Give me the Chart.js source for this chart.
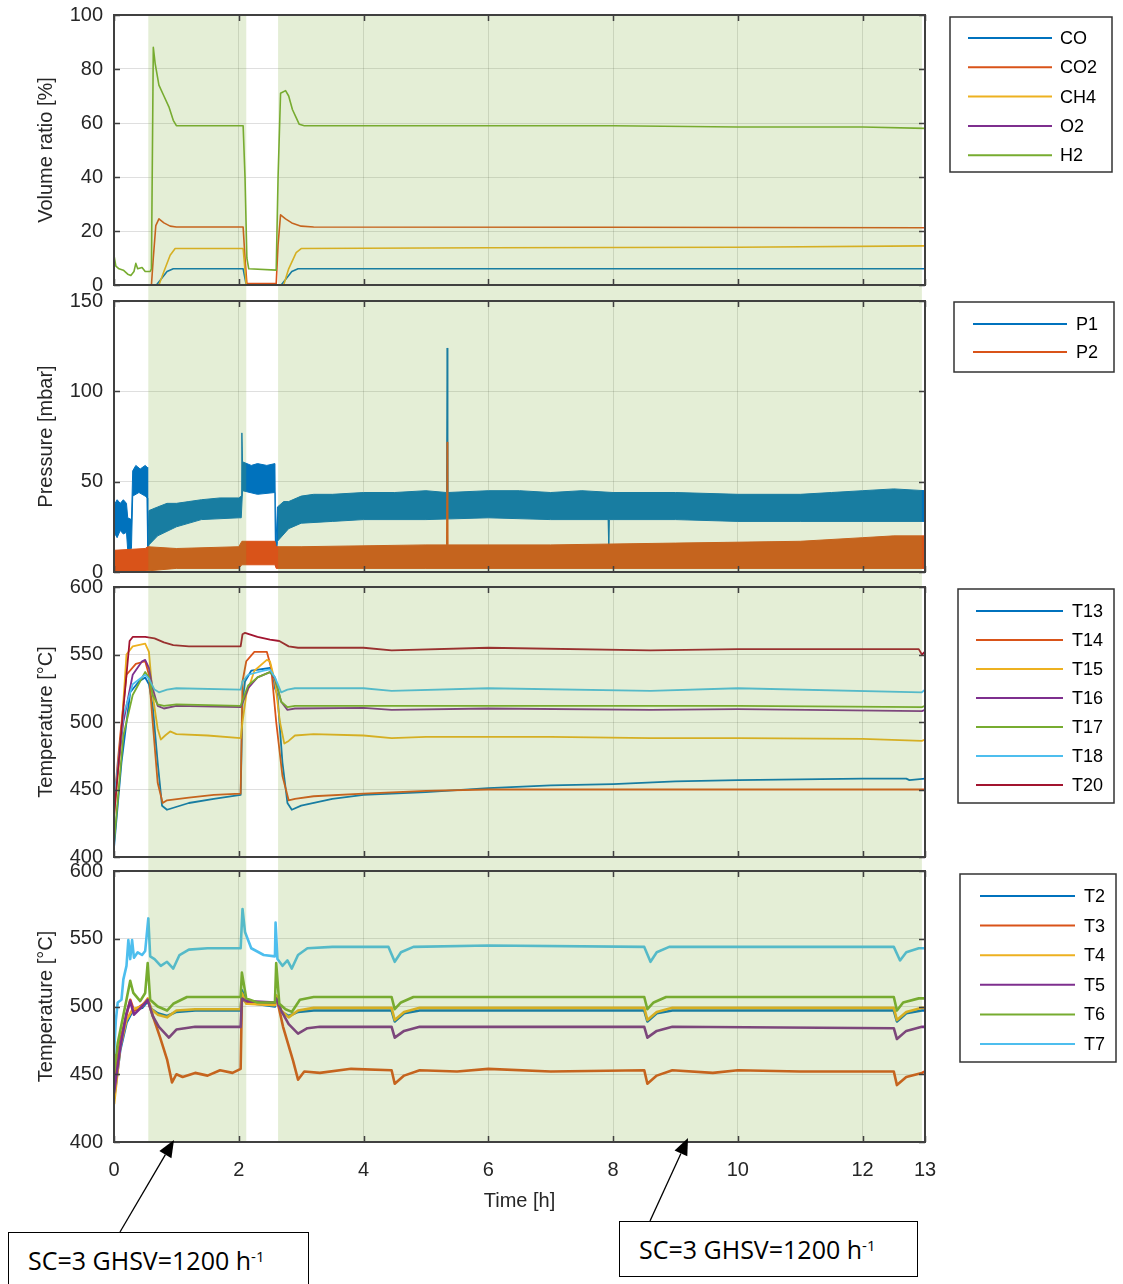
<!DOCTYPE html>
<html>
<head>
<meta charset="utf-8">
<script src="https://cdn.jsdelivr.net/npm/chart.js@4.4.1/dist/chart.umd.min.js"></script>
<style>
  body { margin: 0; background: #fff; }
  #wrap { position: relative; width: 1123px; height: 1284px; overflow: hidden; background: #fff; }
  #wrap canvas { position: absolute; left: 0; top: 0; }
  #arrows { position: absolute; left: 0; top: 0; }
  .note {
    position: absolute; box-sizing: border-box; border: 1.5px solid #000; background: #fff;
    display: flex; align-items: center; font-family: "Open Sans", "Liberation Sans", sans-serif;
    font-size: 25px; color: #000; white-space: nowrap;
  }
  .note sup { font-size: 15px; position: relative; top: -4px; }
</style>
</head>
<body>
<div id="wrap">
  <canvas id="gas" width="1123" height="1284"></canvas>
  <canvas id="pres" width="1123" height="1284"></canvas>
  <canvas id="tmid" width="1123" height="1284"></canvas>
  <canvas id="tbed" width="1123" height="1284"></canvas>
  <svg id="arrows" width="1123" height="1284"></svg>
  <div class="note" style="left:8px;top:1232px;width:301px;height:56px;padding-left:19px;">SC=3 GHSV=1200 h<sup>-1</sup></div>
  <div class="note" style="left:619px;top:1221px;width:299px;height:56px;padding-left:19px;">SC=3 GHSV=1200 h<sup>-1</sup></div>
</div>
<script>
// ---- time axis ----
const X_TICKS = [0, 2, 4, 6, 8, 10, 12, 13];
// periods run at SC=3, GHSV=1200 h-1 [start h, end h]
const STEADY_PERIODS = [[0.55, 2.12], [2.63, 12.95]];

// ---- gas composition [%]: [time h, value] ----
const GAS_TICKS = [0, 20, 40, 60, 80, 100];
const CO = [[0,0],[0.68,0],[0.75,2],[0.85,5],[0.95,6],[2.07,6],[2.12,0],[2.68,0],[2.75,2],[2.85,5],[2.95,6],[6,6],[10,6],[13,6]];
const CO2 = [[0,0],[0.6,0],[0.63,10],[0.67,22],[0.72,24.5],[0.8,23],[0.9,21.8],[1.0,21.5],[2.07,21.5],[2.1,10],[2.13,0.5],[2.6,0.5],[2.63,15],[2.67,26],[2.75,24.5],[2.85,23],[3.0,21.8],[3.2,21.5],[8,21.4],[13,21.2]];
const CH4 = [[0,0],[0.72,0],[0.8,5],[0.9,11],[0.98,13.5],[2.07,13.5],[2.12,0],[2.72,0],[2.8,6],[2.92,12],[3.0,13.5],[6,13.8],[10,14],[13,14.5]];
const O2 = [[0,0],[13,0]];
const H2 = [[0,11],[0.03,7],[0.08,6],[0.15,5.5],[0.22,4],[0.27,3.5],[0.32,5],[0.35,8],[0.38,6],[0.45,6.5],[0.5,5],[0.58,5],[0.6,6],[0.63,88],[0.66,82],[0.72,74],[0.8,70],[0.88,66],[0.95,61],[1.0,59],[1.4,59],[1.8,59],[2.07,59],[2.1,40],[2.13,10],[2.16,6],[2.6,5.5],[2.63,40],[2.67,71],[2.75,72],[2.8,70],[2.86,65],[2.92,62],[2.97,59.5],[3.05,59],[4,59],[6,59],[8,59],[10,58.5],[12,58.5],[13,58]];

// ---- pressure [mbar]: band limits of the logged signal ----
const PRES_TICKS = [0, 50, 100, 150];
const P1_HIGH = [[0,37],[0.05,40],[0.1,38],[0.15,40],[0.2,38],[0.22,30],[0.28,29],[0.3,56],[0.35,59],[0.42,57],[0.5,59],[0.53,58],[0.54,10],[0.56,34],[0.7,36],[0.85,38],[1.0,38],[1.2,39],[1.4,40],[1.7,41],[2.0,41],[2.04,42],[2.05,77],[2.06,61],[2.2,59],[2.3,60],[2.45,59],[2.58,60],[2.59,10],[2.62,36],[2.72,39],[2.8,39],[3.0,42],[3.2,43],[3.5,43],[4.0,44],[4.5,44],[5.0,45],[5.33,44],[5.34,124],[5.35,44],[6,45],[6.5,45],[7,44],[7.5,45],[8,44],[9,44],[10,43],[11,43],[11.5,44],[12,45],[12.5,46],[13,45]];
const P1_LOW = [[0,22],[0.05,19],[0.1,23],[0.15,21],[0.2,22],[0.22,12],[0.28,13],[0.3,42],[0.4,44],[0.5,42],[0.53,41],[0.54,8],[0.56,15],[0.7,20],[1.0,25],[1.4,29],[2.0,30],[2.04,30],[2.06,45],[2.3,43],[2.58,44],[2.59,3],[2.62,17],[2.8,24],[3.0,27],[3.5,28],[4,29],[5,29],[6,30],[7,29],[7.92,29],[7.93,14],[7.94,29],[8,29],[9,29],[10,28],[11,28],[12,28],[13,28]];
const P2_HIGH = [[0,12],[0.5,13],[0.54,14],[1,13],[2,14],[2.05,17],[2.58,17],[2.6,14],[3,14],[5,15],[5.33,15],[5.34,72],[5.35,15],[7,15],[9,16],[11,17],[12,19],[12.5,20],[13,20]];
const P2_LOW = [[0,0],[0.5,0.5],[1,2],[2,2],[2.05,4],[2.58,4],[2.6,2],[5,2],[8,2],[10,2],[12,2],[13,2]];

// ---- temperatures [°C] ----
const TEMP_TICKS = [400, 450, 500, 550, 600];
const T13 = [[0,407],[0.12,470],[0.26,522],[0.4,530],[0.5,533],[0.56,528],[0.62,512],[0.7,470],[0.77,438],[0.85,435],[1.2,440],[1.6,443],[2.03,446],[2.06,515],[2.1,530],[2.2,538],[2.5,540],[2.55,535],[2.58,525],[2.62,520],[2.7,470],[2.78,440],[2.85,435],[3.0,438],[3.5,443],[4,446],[5,448],[6,451],[7,453],[8,454],[9,456],[10,457],[11,457.5],[12,458],[12.7,458],[12.75,457],[13,458]];
const T14 = [[0,440],[0.1,490],[0.2,535],[0.35,543],[0.5,545],[0.56,535],[0.62,500],[0.7,455],[0.78,440],[0.85,442],[1.2,444],[1.6,446],[2.03,447],[2.06,530],[2.12,545],[2.25,552],[2.45,552],[2.52,540],[2.6,500],[2.7,460],[2.8,442],[2.9,443],[3.2,445],[4,447],[5,449],[6,450],[8,450],[10,450],[12,450],[13,450]];
const T15 = [[0,430],[0.1,480],[0.2,550],[0.3,556],[0.5,558],[0.56,552],[0.62,520],[0.7,495],[0.75,487],[0.82,490],[0.9,493],[1.0,491],[1.5,490],[2.03,488],[2.06,500],[2.12,520],[2.25,538],[2.45,546],[2.5,545],[2.58,530],[2.66,500],[2.73,484],[2.8,486],[2.9,490],[3.2,491],[4,490],[4.45,488],[5,489],[7,489],[8.6,488],[10,488],[12,487.5],[12.95,486],[13,487]];
const T16 = [[0,440],[0.15,500],[0.3,535],[0.45,545],[0.5,546],[0.56,540],[0.62,525],[0.7,512],[0.8,510],[1.0,512],[2.03,511],[2.06,514],[2.15,525],[2.3,533],[2.5,537],[2.58,532],[2.68,515],[2.78,509],[2.9,510],[4,510.5],[4.45,509],[6,510],[8.6,509],[10,509.5],[12.95,508],[13,509]];
const T17 = [[0,410],[0.15,490],[0.3,520],[0.5,537],[0.56,533],[0.62,520],[0.7,513],[0.8,512],[1.0,513],[2.03,512],[2.06,516],[2.15,527],[2.3,533],[2.5,537],[2.58,533],[2.68,515],[2.78,511],[2.9,512],[4,512],[6,512],[10,512],[12.95,511],[13,512]];
const T18 = [[0,440],[0.15,505],[0.3,528],[0.5,535],[0.56,532],[0.65,524],[0.72,522],[0.85,524],[1,525],[2.03,524],[2.06,530],[2.15,535],[2.4,538],[2.5,539],[2.58,533],[2.68,522],[2.78,524],[2.9,525],[4,525],[4.45,523],[6,525],[8.6,523],[10,525],[12.95,522],[13,524]];
const T20 = [[0,430],[0.13,500],[0.25,560],[0.3,563],[0.5,563],[0.65,562],[0.8,559],[0.95,557],[1.2,556],[2.03,556],[2.06,565],[2.1,566],[2.3,563],[2.5,561],[2.65,560],[2.8,556],[2.95,555],[4,555],[4.45,553],[6,555],[8.6,553],[10,554],[12,554],[12.9,554],[12.95,550],[13,552]];

const T2 = [[0,432],[0.1,468],[0.2,488],[0.3,497],[0.45,499],[0.54,504],[0.6,498],[0.7,495],[0.85,493],[1.0,496],[1.3,497],[2.03,497],[2.05,512],[2.12,503],[2.58,500],[2.6,507],[2.68,496],[2.8,493],[2.95,496],[3.2,497],[4.45,497],[4.5,489],[4.65,495],[4.9,497],[8.5,497],[8.55,489],[8.7,495],[8.95,497],[12.5,497],[12.55,489],[12.7,495],[12.95,497],[13,497]];
const T3 = [[0,440],[0.1,475],[0.26,505],[0.32,497],[0.45,501],[0.54,505],[0.63,492],[0.74,477],[0.85,461],[0.93,444],[1.0,450],[1.1,448],[1.3,451],[1.5,449],[1.7,453],[1.9,451],[2.03,454],[2.05,506],[2.12,503],[2.58,502],[2.6,508],[2.71,485],[2.87,460],[2.95,446],[3.05,452],[3.3,451],[3.8,454],[4.45,453],[4.5,443],[4.65,449],[4.9,453],[5.5,452],[6,454],[7,452],[8.5,453],[8.55,443],[8.7,449],[8.95,453],[9.6,451],[10,453],[11,452],[12.5,452],[12.55,442],[12.7,448],[12.95,451],[13,452]];
const T4 = [[0,428],[0.1,470],[0.2,490],[0.3,498],[0.45,500],[0.54,506],[0.6,498],[0.7,494],[0.85,492],[1.0,497],[1.3,498],[2.03,498],[2.05,510],[2.12,502],[2.58,501],[2.6,508],[2.68,497],[2.8,492],[2.95,497],[3.2,499],[4.45,499],[4.5,490],[4.65,496],[4.9,499],[8.5,499],[8.55,490],[8.7,496],[8.95,499],[12.5,499],[12.55,490],[12.7,496],[12.95,499],[13,499]];
const T5 = [[0,436],[0.1,470],[0.2,495],[0.26,504],[0.32,494],[0.45,500],[0.54,505],[0.62,493],[0.72,485],[0.88,477],[1.0,483],[1.3,485],[2.03,485],[2.05,506],[2.12,504],[2.58,503],[2.6,506],[2.68,497],[2.8,487],[2.95,480],[3.1,484],[3.3,485],[4.45,485],[4.5,477],[4.65,482],[4.9,485],[8.5,485],[8.55,477],[8.7,482],[8.95,485],[12.5,484],[12.55,476],[12.7,482],[12.95,485],[13,485]];
const T6 = [[0,451],[0.06,473],[0.2,505],[0.26,519],[0.31,510],[0.42,504],[0.5,510],[0.54,532],[0.58,505],[0.7,500],[0.85,497],[0.95,502],[1.17,507],[2.03,507],[2.05,525],[2.12,506],[2.3,503],[2.58,503],[2.6,532],[2.65,502],[2.75,498],[2.85,496],[2.98,505],[3.2,507],[4.45,507],[4.5,498],[4.6,503],[4.8,507],[8.5,507],[8.55,498],[8.65,503],[8.85,507],[12.5,507],[12.55,497],[12.65,503],[12.9,506],[13,506]];
const T7 = [[0,465],[0.03,490],[0.06,503],[0.12,505],[0.15,520],[0.2,530],[0.23,549],[0.26,535],[0.29,549],[0.32,536],[0.38,540],[0.45,538],[0.5,541],[0.55,565],[0.58,537],[0.65,535],[0.75,530],[0.85,533],[0.95,528],[1.05,538],[1.2,542],[1.5,543],[2.03,543],[2.06,572],[2.1,555],[2.2,543],[2.4,538],[2.58,537],[2.59,562],[2.62,535],[2.7,530],[2.78,534],[2.85,528],[2.95,538],[3.1,543],[3.5,544],[4.4,544],[4.5,533],[4.6,540],[4.8,544],[6,545],[8.5,544],[8.6,533],[8.7,540],[8.9,544],[10,544],[12.5,544],[12.6,534],[12.7,540],[12.9,543],[13,543]];

// MATLAB-style line colours
const C = {
  blue: '#0072BD', orange: '#D95319', yellow: '#EDB120', purple: '#7E2F8E',
  green: '#77AC30', cyan: '#4DBEEE', red: '#A2142F'
};
const FONT = '"Liberation Sans", Arial, sans-serif';
const TEXT = '#262626';
const GRID = 'rgba(38,38,38,0.15)';
const SHADE = 'rgba(119,172,48,0.2)';

const pts = arr => arr.map(([x, y]) => ({ x, y }));

function line(label, data, color, width, idx, extra) {
  return Object.assign({
    label, data: pts(data), borderColor: color, backgroundColor: color,
    borderWidth: width, pointRadius: 0, tension: 0, fill: false,
    borderJoinStyle: 'round', order: -idx
  }, extra || {});
}

// shading of the steady-state periods, drawn over the traces
const shadePlugin = {
  id: 'shade',
  afterDatasetsDraw(chart, args, opts) {
    const { ctx, chartArea: a, scales: { x } } = chart;
    ctx.save();
    ctx.fillStyle = SHADE;
    STEADY_PERIODS.forEach(([s, e]) => {
      const x0 = x.getPixelForValue(s), x1 = x.getPixelForValue(e);
      ctx.fillRect(x0, a.top - (opts.extTop || 0), x1 - x0,
        a.bottom - a.top + (opts.extTop || 0) + (opts.extBottom || 0));
    });
    ctx.restore();
  }
};

// axes box with inward tick marks
const boxPlugin = {
  id: 'axbox',
  afterDraw(chart) {
    const { ctx, chartArea: a, scales: { x, y } } = chart;
    ctx.save();
    ctx.strokeStyle = '#404040';
    ctx.lineWidth = 1.5;
    ctx.beginPath();
    x.ticks.forEach(t => {
      const px = Math.round(x.getPixelForValue(t.value)) + 0.5;
      ctx.moveTo(px, a.bottom); ctx.lineTo(px, a.bottom - 6);
      ctx.moveTo(px, a.top); ctx.lineTo(px, a.top + 6);
    });
    y.ticks.forEach(t => {
      const py = Math.round(y.getPixelForValue(t.value)) + 0.5;
      ctx.moveTo(a.left, py); ctx.lineTo(a.left + 6, py);
      ctx.moveTo(a.right, py); ctx.lineTo(a.right - 6, py);
    });
    ctx.stroke();
    ctx.lineWidth = 2;
    ctx.strokeRect(a.left, a.top, a.right - a.left, a.bottom - a.top);
    ctx.restore();
  }
};

// boxed legend to the right of the axes
const legendBoxPlugin = {
  id: 'legendBox',
  afterDraw(chart, args, o) {
    const { ctx } = chart;
    ctx.save();
    ctx.fillStyle = '#fff';
    ctx.fillRect(o.box[0], o.box[1], o.box[2], o.box[3]);
    ctx.strokeStyle = '#333';
    ctx.lineWidth = 1.5;
    ctx.strokeRect(o.box[0], o.box[1], o.box[2], o.box[3]);
    ctx.font = '18px ' + FONT;
    ctx.textBaseline = 'middle';
    ctx.textAlign = 'left';
    const items = chart.data.datasets.filter(d => !d.hideInLegend);
    items.forEach((d, i) => {
      const yy = o.y0 + i * o.dy;
      ctx.strokeStyle = d.borderColor;
      ctx.lineWidth = 2;
      ctx.beginPath();
      ctx.moveTo(o.line[0], yy); ctx.lineTo(o.line[1], yy);
      ctx.stroke();
      ctx.fillStyle = '#000';
      ctx.fillText(d.label, o.textX, yy + 1);
    });
    ctx.restore();
  }
};

function makePanel(id, p) {
  const H = 1284;
  const xH = p.showX ? 80 : 0;
  return new Chart(document.getElementById(id), {
    type: 'line',
    data: { datasets: p.datasets },
    plugins: [shadePlugin, boxPlugin, legendBoxPlugin],
    options: {
      responsive: false, animation: false, events: [],
      layout: { padding: { left: 0, right: 1123 - 925, top: p.top, bottom: H - p.bottom - xH } },
      plugins: {
        legend: { display: false }, tooltip: { enabled: false },
        shade: { extTop: 0, extBottom: p.gapBelow || 0 },
        legendBox: p.legend,
        filler: { propagate: false }
      },
      scales: {
        x: {
          type: 'linear', min: 0, max: 13,
          afterBuildTicks: s => { s.ticks = X_TICKS.map(v => ({ value: v })); },
          afterFit: s => { s.height = xH; s.paddingLeft = 0; s.paddingRight = 0; },
          grid: { color: GRID, drawTicks: false, lineWidth: 1 },
          border: { display: false },
          ticks: { display: p.showX, padding: 16, color: TEXT, font: { family: FONT, size: 20 }, maxRotation: 0, autoSkip: false },
          title: { display: p.showX, text: 'Time [h]', color: TEXT, font: { family: FONT, size: 20 }, padding: { top: 0, bottom: 9 } }
        },
        y: {
          type: 'linear', min: p.ticks[0], max: p.ticks[p.ticks.length - 1],
          afterBuildTicks: s => { s.ticks = p.ticks.map(v => ({ value: v })); },
          afterFit: s => { s.width = 114; s.paddingTop = 0; s.paddingBottom = 0; },
          grid: { color: GRID, drawTicks: false, lineWidth: 1 },
          border: { display: false },
          ticks: { padding: 11, color: TEXT, font: { family: FONT, size: 20 } },
          title: { display: true, text: p.title, color: TEXT, font: { family: FONT, size: 20 }, padding: { top: 34, bottom: 0 } }
        }
      }
    }
  });
}

makePanel('gas', {
  top: 15, bottom: 285, gapBelow: 16, ticks: GAS_TICKS, title: 'Volume ratio [%]',
  datasets: [
    line('CO', CO, C.blue, 1.6, 0),
    line('CO2', CO2, C.orange, 1.6, 1),
    line('CH4', CH4, C.yellow, 1.6, 2),
    line('O2', O2, C.purple, 1.6, -5),
    line('H2', H2, C.green, 1.6, 4)
  ],
  legend: { box: [950, 17, 162, 155], line: [968, 1052], textX: 1060, y0: 38, dy: 29.3 }
});

makePanel('pres', {
  top: 301, bottom: 572, gapBelow: 15, ticks: PRES_TICKS, title: 'Pressure [mbar]',
  datasets: [
    line('P1', P1_HIGH, C.blue, 1, 0),
    line('P1 min', P1_LOW, C.blue, 1, 1, { fill: '-1', hideInLegend: true }),
    line('P2', P2_HIGH, C.orange, 1, 2),
    line('P2 min', P2_LOW, C.orange, 1, 3, { fill: '-1', hideInLegend: true })
  ],
  legend: { box: [954, 302, 160, 70], line: [973, 1067], textX: 1076, y0: 324, dy: 28 }
});

makePanel('tmid', {
  top: 587, bottom: 857, gapBelow: 14, ticks: TEMP_TICKS, title: 'Temperature [°C]',
  datasets: [
    line('T13', T13, C.blue, 1.8, 0),
    line('T14', T14, C.orange, 1.8, 1),
    line('T15', T15, C.yellow, 1.8, 2),
    line('T16', T16, C.purple, 1.8, 3),
    line('T17', T17, C.green, 1.8, 4),
    line('T18', T18, C.cyan, 1.8, 5),
    line('T20', T20, C.red, 1.8, 6)
  ],
  legend: { box: [958, 589, 156, 214], line: [976, 1063], textX: 1072, y0: 611, dy: 29 }
});

makePanel('tbed', {
  top: 871, bottom: 1142, gapBelow: 0, ticks: TEMP_TICKS, title: 'Temperature [°C]', showX: true,
  datasets: [
    line('T2', T2, C.blue, 2.6, 0),
    line('T3', T3, C.orange, 2.6, 1),
    line('T4', T4, C.yellow, 2.6, 2),
    line('T5', T5, C.purple, 2.6, 3),
    line('T6', T6, C.green, 2.6, 4),
    line('T7', T7, C.cyan, 2.6, 5)
  ],
  legend: { box: [960, 874, 156, 188], line: [980, 1075], textX: 1084, y0: 896, dy: 29.6 }
});

// arrows from the notes to the time axis
const ARROWS = [[[120, 1232], [174, 1140]], [[650, 1221], [688, 1138]]];
const svg = document.getElementById('arrows');
ARROWS.forEach(([[x0, y0], [x1, y1]]) => {
  const dx = x1 - x0, dy = y1 - y0, len = Math.hypot(dx, dy);
  const ux = dx / len, uy = dy / len, hl = 17, hw = 7;
  const bx = x1 - ux * hl, by = y1 - uy * hl;
  const ns = 'http://www.w3.org/2000/svg';
  const l = document.createElementNS(ns, 'line');
  l.setAttribute('x1', x0); l.setAttribute('y1', y0); l.setAttribute('x2', bx); l.setAttribute('y2', by);
  l.setAttribute('stroke', '#000'); l.setAttribute('stroke-width', '1.3');
  svg.appendChild(l);
  const h = document.createElementNS(ns, 'polygon');
  h.setAttribute('points', `${x1},${y1} ${bx - uy * hw},${by + ux * hw} ${bx + uy * hw},${by - ux * hw}`);
  h.setAttribute('fill', '#000');
  svg.appendChild(h);
});
</script>
</body>
</html>
